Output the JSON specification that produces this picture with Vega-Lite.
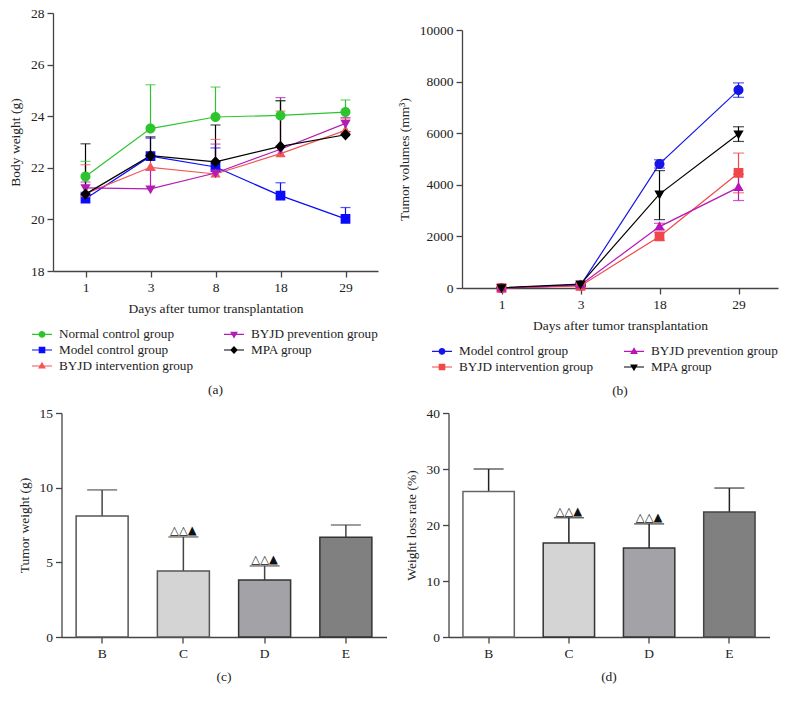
{
  "$schema": "https://vega.github.io/schema/vega-lite/v6.json",
  "background": "white",
  "padding": {"left": 8, "top": 6, "right": 5, "bottom": 5},
  "config": {
    "font": "Liberation Serif",
    "view": {"stroke": null},
    "axis": {
      "grid": false,
      "domainColor": "#444",
      "tickColor": "#444",
      "domainWidth": 1.3,
      "tickWidth": 1.3,
      "tickSize": 6,
      "labelFont": "Liberation Serif",
      "labelFontSize": 13.5,
      "labelColor": "#222",
      "labelPadding": 3,
      "titleFont": "Liberation Serif",
      "titleFontSize": 13.5,
      "titleFontWeight": "normal",
      "titleColor": "#222"
    },
    "legend": {
      "labelFont": "Liberation Serif",
      "labelFontSize": 13.2,
      "labelColor": "#222",
      "labelOffset": 8,
      "columnPadding": 27,
      "rowPadding": 0,
      "symbolSize": 256,
      "symbolStrokeWidth": 1.2,
      "layout": {"bottom": {"anchor": "end"}}
    },
    "title": {"font": "Liberation Serif", "fontSize": 13.5, "fontWeight": "normal", "color": "#222"}
  },
  "spacing": 8,
  "center": true,
  "resolve": {"scale": {"color": "independent", "shape": "independent", "fill": "independent", "stroke": "independent"}, "legend": {"color": "independent", "shape": "independent"}},
  "vconcat": [
    {
      "spacing": 19,
      "resolve": {"scale": {"color": "independent", "shape": "independent"}, "legend": {"color": "independent", "shape": "independent"}},
      "hconcat": [
        {
          "width": 325,
          "height": 258,
          "title": {"text": "(a)", "orient": "bottom", "offset": 10},
          "data": {"values": [
            {"group": "Normal control group", "day": 1, "mean": 21.66, "hi": 22.25},
            {"group": "Normal control group", "day": 3, "mean": 23.52, "hi": 25.22},
            {"group": "Normal control group", "day": 8, "mean": 23.97, "hi": 25.13},
            {"group": "Normal control group", "day": 18, "mean": 24.03, "hi": 24.6},
            {"group": "Normal control group", "day": 29, "mean": 24.16, "hi": 24.63},
            {"group": "Model control group", "day": 1, "mean": 20.8, "hi": 21.05},
            {"group": "Model control group", "day": 3, "mean": 22.45, "hi": 23.15},
            {"group": "Model control group", "day": 8, "mean": 22.03, "hi": 22.77},
            {"group": "Model control group", "day": 18, "mean": 20.92, "hi": 21.42},
            {"group": "Model control group", "day": 29, "mean": 20.02, "hi": 20.46},
            {"group": "BYJD intervention group", "day": 1, "mean": 21.0, "hi": 22.12},
            {"group": "BYJD intervention group", "day": 3, "mean": 22.02, "hi": 22.35},
            {"group": "BYJD intervention group", "day": 8, "mean": 21.76, "hi": 23.1},
            {"group": "BYJD intervention group", "day": 18, "mean": 22.55, "hi": 24.2},
            {"group": "BYJD intervention group", "day": 29, "mean": 23.45, "hi": 23.9},
            {"group": "BYJD prevention group", "day": 1, "mean": 21.22, "hi": 21.45},
            {"group": "BYJD prevention group", "day": 3, "mean": 21.18, "hi": 21.9},
            {"group": "BYJD prevention group", "day": 8, "mean": 21.8, "hi": 22.92},
            {"group": "BYJD prevention group", "day": 18, "mean": 22.72, "hi": 24.72},
            {"group": "BYJD prevention group", "day": 29, "mean": 23.72, "hi": 23.95},
            {"group": "MPA group", "day": 1, "mean": 20.98, "hi": 22.93},
            {"group": "MPA group", "day": 3, "mean": 22.47, "hi": 23.2},
            {"group": "MPA group", "day": 8, "mean": 22.23, "hi": 23.66},
            {"group": "MPA group", "day": 18, "mean": 22.83, "hi": 24.6},
            {"group": "MPA group", "day": 29, "mean": 23.28, "hi": 23.4}
          ]},
          "encoding": {
            "x": {"field": "day", "type": "ordinal", "scale": {"type": "point", "padding": 0.5}, "axis": {"title": "Days after tumor transplantation", "labelAngle": 0, "titlePadding": 8}},
            "color": {"field": "group", "type": "nominal",
              "scale": {"domain": ["Normal control group", "BYJD prevention group", "Model control group", "MPA group", "BYJD intervention group"],
                        "range": ["#2ec42e", "#b31db3", "#0a0aff", "#000000", "#f25757"]},
              "legend": {"title": null, "orient": "bottom", "columns": 2, "offset": 10, "symbolSize": 256, "symbolStrokeWidth": 1.2, "labelFont": "Liberation Serif", "labelFontSize": 13.2,
                   "encode": {"symbols": {"update": {
                     "stroke": {"signal": "{'Normal control group':'#2ec42e','Model control group':'#0a0aff','BYJD intervention group':'#f25757','BYJD prevention group':'#b31db3','MPA group':'#000000'}[datum.value]"},
                     "strokeWidth": {"value": 1.2},
                     "size": {"value": 256},
                     "opacity": {"value": 1}
                   }}}}}
          },
          "layer": [
            {"mark": {"type": "rule", "strokeWidth": 1.2},
             "encoding": {"y": {"field": "mean", "type": "quantitative", "scale": {"domain": [18, 28], "nice": false, "zero": false},
                                "axis": {"title": "Body weight (g)", "values": [18, 20, 22, 24, 26, 28], "titlePadding": 8}},
                          "y2": {"field": "hi"}}},
            {"mark": {"type": "tick", "thickness": 1.2, "size": 10},
             "encoding": {"y": {"field": "hi", "type": "quantitative"}}},
            {"mark": {"type": "line", "strokeWidth": 1.2},
             "encoding": {"y": {"field": "mean", "type": "quantitative"}}},
            {"mark": {"type": "point", "filled": true, "opacity": 1, "size": 816, "strokeWidth": 0},
             "encoding": {
               "y": {"field": "mean", "type": "quantitative"},
               "shape": {"field": "group", "type": "nominal",
                 "scale": {"domain": ["Normal control group", "BYJD prevention group", "Model control group", "MPA group", "BYJD intervention group"],
                           "range": ["M-1.25,0H1.25M0.35,0A0.35,0.35,0,1,1,-0.35,0A0.35,0.35,0,1,1,0.35,0Z", "M-1.25,0H1.25M0,0.375L0.36,-0.25H-0.36Z", "M-1.25,0H1.25M-0.34,-0.34H0.34V0.34H-0.34Z", "M-1.25,0H1.25M0,-0.4L0.375,0L0,0.4L-0.375,0Z", "M-1.25,0H1.25M0,-0.375L0.36,0.25H-0.36Z"]},
                 "legend": {"title": null, "orient": "bottom", "columns": 2, "offset": 10, "symbolSize": 256, "symbolStrokeWidth": 1.2, "labelFont": "Liberation Serif", "labelFontSize": 13.2,
                   "encode": {"symbols": {"update": {
                     "stroke": {"signal": "{'Normal control group':'#2ec42e','Model control group':'#0a0aff','BYJD intervention group':'#f25757','BYJD prevention group':'#b31db3','MPA group':'#000000'}[datum.value]"},
                     "strokeWidth": {"value": 1.2},
                     "size": {"value": 256},
                     "opacity": {"value": 1}
                   }}}}
               }
             }}
          ]
        },
        {
          "spacing": 9,
          "resolve": {"scale": {"color": "independent", "shape": "independent"}, "legend": {"color": "independent", "shape": "independent"}},
          "vconcat": [
            {"width": 316, "height": 1, "data": {"values": []}, "mark": "point"},
            {
          "width": 316,
          "height": 258,
          "title": {"text": "(b)", "orient": "bottom", "offset": 10},
          "data": {"values": [
            {"group": "Model control group", "day": 1, "mean": 0, "lo": 0, "hi": 0},
            {"group": "Model control group", "day": 3, "mean": 100, "lo": 60, "hi": 140},
            {"group": "Model control group", "day": 18, "mean": 4810, "lo": 4650, "hi": 4970},
            {"group": "Model control group", "day": 29, "mean": 7670, "lo": 7390, "hi": 7950},
            {"group": "BYJD intervention group", "day": 1, "mean": 0, "lo": 0, "hi": 0},
            {"group": "BYJD intervention group", "day": 3, "mean": 80, "lo": 50, "hi": 110},
            {"group": "BYJD intervention group", "day": 18, "mean": 2000, "lo": 1850, "hi": 2150},
            {"group": "BYJD intervention group", "day": 29, "mean": 4460, "lo": 3690, "hi": 5230},
            {"group": "BYJD prevention group", "day": 1, "mean": 0, "lo": 0, "hi": 0},
            {"group": "BYJD prevention group", "day": 3, "mean": 120, "lo": 80, "hi": 160},
            {"group": "BYJD prevention group", "day": 18, "mean": 2380, "lo": 2250, "hi": 2510},
            {"group": "BYJD prevention group", "day": 29, "mean": 3900, "lo": 3390, "hi": 4410},
            {"group": "MPA group", "day": 1, "mean": 10, "lo": 0, "hi": 20},
            {"group": "MPA group", "day": 3, "mean": 150, "lo": 100, "hi": 200},
            {"group": "MPA group", "day": 18, "mean": 3640, "lo": 2650, "hi": 4550},
            {"group": "MPA group", "day": 29, "mean": 5970, "lo": 5680, "hi": 6250}
          ]},
          "encoding": {
            "x": {"field": "day", "type": "ordinal", "scale": {"type": "point", "padding": 0.5}, "axis": {"title": "Days after tumor transplantation", "labelAngle": 0, "titlePadding": 8}},
            "color": {"field": "group", "type": "nominal",
              "scale": {"domain": ["Model control group", "BYJD prevention group", "BYJD intervention group", "MPA group"],
                        "range": ["#1515e6", "#b814b8", "#f04848", "#000000"]},
              "legend": {"title": null, "orient": "bottom", "columns": 2, "offset": 10, "symbolSize": 256, "symbolStrokeWidth": 1.2, "labelFont": "Liberation Serif", "labelFontSize": 13.2,
                   "encode": {"symbols": {"update": {
                     "stroke": {"signal": "{'Model control group':'#1515e6','BYJD intervention group':'#f04848','BYJD prevention group':'#b814b8','MPA group':'#000000'}[datum.value]"},
                     "strokeWidth": {"value": 1.2},
                     "size": {"value": 256},
                     "opacity": {"value": 1}
                   }}}}}
          },
          "layer": [
            {"mark": {"type": "rule", "strokeWidth": 1.2},
             "encoding": {"y": {"field": "lo", "type": "quantitative", "scale": {"domain": [0, 10000], "nice": false},
                                "axis": {"title": "Tumor volumes (mm³)", "values": [0, 2000, 4000, 6000, 8000, 10000], "format": "d", "titlePadding": 8}},
                          "y2": {"field": "hi"}}},
            {"mark": {"type": "tick", "thickness": 1.2, "size": 11},
             "encoding": {"y": {"field": "hi", "type": "quantitative"}}},
            {"mark": {"type": "tick", "thickness": 1.2, "size": 11},
             "encoding": {"y": {"field": "lo", "type": "quantitative"}}},
            {"mark": {"type": "line", "strokeWidth": 1.2},
             "encoding": {"y": {"field": "mean", "type": "quantitative"}}},
            {"mark": {"type": "point", "filled": true, "opacity": 1, "size": 816, "strokeWidth": 0},
             "encoding": {
               "y": {"field": "mean", "type": "quantitative"},
               "shape": {"field": "group", "type": "nominal",
                 "scale": {"domain": ["Model control group", "BYJD prevention group", "BYJD intervention group", "MPA group"],
                           "range": ["M-1.25,0H1.25M0.35,0A0.35,0.35,0,1,1,-0.35,0A0.35,0.35,0,1,1,0.35,0Z", "M-1.25,0H1.25M0,-0.375L0.36,0.25H-0.36Z", "M-1.25,0H1.25M-0.34,-0.34H0.34V0.34H-0.34Z", "M-1.25,0H1.25M0,0.375L0.36,-0.25H-0.36Z"]},
                 "legend": {"title": null, "orient": "bottom", "columns": 2, "offset": 10, "symbolSize": 256, "symbolStrokeWidth": 1.2, "labelFont": "Liberation Serif", "labelFontSize": 13.2,
                   "encode": {"symbols": {"update": {
                     "stroke": {"signal": "{'Model control group':'#1515e6','BYJD intervention group':'#f04848','BYJD prevention group':'#b814b8','MPA group':'#000000'}[datum.value]"},
                     "strokeWidth": {"value": 1.2},
                     "size": {"value": 256},
                     "opacity": {"value": 1}
                   }}}}
               }
             }}
          ]
            }
          ]
        }
      ]
    },
    {
      "spacing": 17,
      "resolve": {"scale": {"fill": "independent", "stroke": "independent"}},
      "hconcat": [
        {
          "width": 325,
          "height": 224,
          "title": {"text": "(c)", "orient": "bottom", "offset": 10},
          "data": {"values": [
            {"group": "B", "mean": 8.1, "hi": 9.85, "sig": ""},
            {"group": "C", "mean": 4.42, "hi": 6.7, "sig": "△△▲"},
            {"group": "D", "mean": 3.82, "hi": 4.76, "sig": "△△▲"},
            {"group": "E", "mean": 6.68, "hi": 7.5, "sig": ""}
          ]},
          "encoding": {
            "x": {"field": "group", "type": "nominal", "scale": {"paddingInner": 0.36, "paddingOuter": 0.18}, "axis": {"title": null, "labelAngle": 0}}
          },
          "layer": [
            {"mark": {"type": "rule", "strokeWidth": 1.5, "color": "#444"},
             "encoding": {"y": {"field": "mean", "type": "quantitative", "scale": {"domain": [0, 15], "nice": false},
                                "axis": {"title": "Tumor weight (g)", "values": [0, 5, 10, 15], "titlePadding": 8}},
                          "y2": {"field": "hi"}}},
            {"mark": {"type": "tick", "thickness": 1.5, "size": 30, "color": "#444"},
             "encoding": {"y": {"field": "hi", "type": "quantitative"}}},
            {"mark": {"type": "bar", "strokeWidth": 1.5},
             "encoding": {"y": {"field": "mean", "type": "quantitative"},
                          "fill": {"field": "group", "type": "nominal", "scale": {"range": ["#ffffff", "#d4d4d4", "#a3a3a7", "#808080"]}, "legend": null},
                          "stroke": {"field": "group", "type": "nominal", "scale": {"range": ["#555555", "#555555", "#333333", "#333333"]}, "legend": null}}},
            {"mark": {"type": "text", "font": "DejaVu Sans", "fontSize": 11.5, "baseline": "alphabetic", "dy": -3, "color": "#111"},
             "encoding": {"y": {"field": "hi", "type": "quantitative"}, "text": {"field": "sig"}}}
          ]
        },
        {
          "width": 321,
          "height": 224,
          "title": {"text": "(d)", "orient": "bottom", "offset": 10},
          "data": {"values": [
            {"group": "B", "mean": 26.0, "hi": 30.0, "sig": ""},
            {"group": "C", "mean": 16.8, "hi": 21.3, "sig": "△△▲"},
            {"group": "D", "mean": 15.9, "hi": 20.2, "sig": "△△▲"},
            {"group": "E", "mean": 22.3, "hi": 26.6, "sig": ""}
          ]},
          "encoding": {
            "x": {"field": "group", "type": "nominal", "scale": {"paddingInner": 0.36, "paddingOuter": 0.18}, "axis": {"title": null, "labelAngle": 0}}
          },
          "layer": [
            {"mark": {"type": "rule", "strokeWidth": 1.5, "color": "#222"},
             "encoding": {"y": {"field": "mean", "type": "quantitative", "scale": {"domain": [0, 40], "nice": false},
                                "axis": {"title": "Weight loss rate (%)", "values": [0, 10, 20, 30, 40], "titlePadding": 8}},
                          "y2": {"field": "hi"}}},
            {"mark": {"type": "tick", "thickness": 1.5, "size": 30, "color": "#222"},
             "encoding": {"y": {"field": "hi", "type": "quantitative"}}},
            {"mark": {"type": "bar", "strokeWidth": 1.5},
             "encoding": {"y": {"field": "mean", "type": "quantitative"},
                          "fill": {"field": "group", "type": "nominal", "scale": {"range": ["#ffffff", "#d4d4d4", "#a3a3a7", "#808080"]}, "legend": null},
                          "stroke": {"field": "group", "type": "nominal", "scale": {"range": ["#666666", "#333333", "#333333", "#444444"]}, "legend": null}}},
            {"mark": {"type": "text", "font": "DejaVu Sans", "fontSize": 11.5, "baseline": "alphabetic", "dy": -3, "color": "#111"},
             "encoding": {"y": {"field": "hi", "type": "quantitative"}, "text": {"field": "sig"}}}
          ]
        }
      ]
    }
  ]
}
